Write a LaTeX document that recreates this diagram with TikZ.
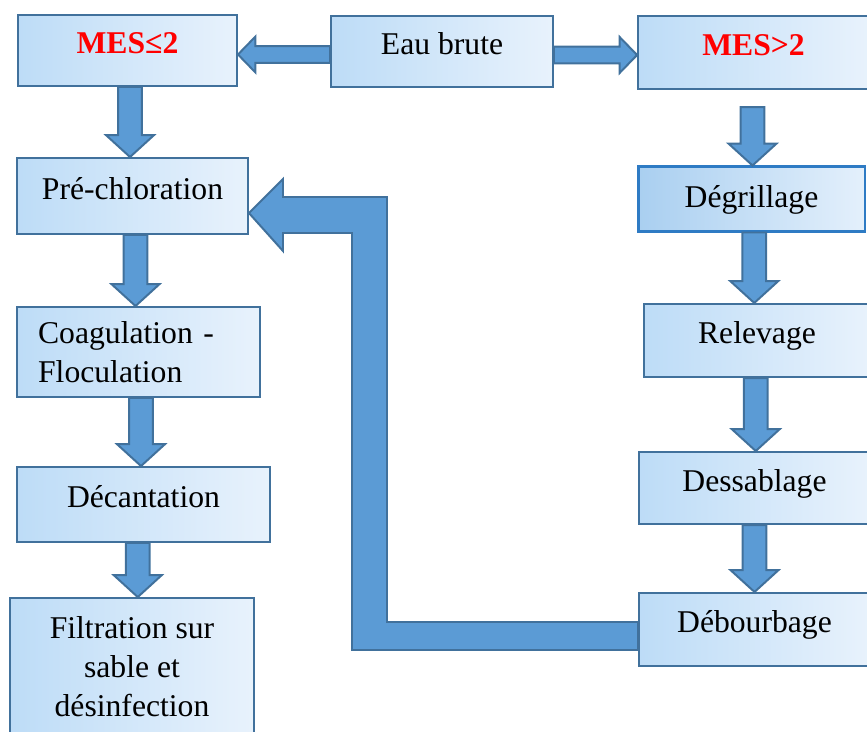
\documentclass[tikz,border=0pt]{standalone}
\usepackage{fontspec}
\setmainfont{Liberation Serif}
\usetikzlibrary{calc}
\definecolor{bordure}{HTML}{41719C}
\definecolor{bleufleche}{HTML}{5B9BD5}
\definecolor{clair}{HTML}{BDDCF7}
\definecolor{tresclair}{HTML}{E8F2FC}
\definecolor{bordvif}{HTML}{2E7BC4}

\tikzset{
  etape/.style={draw=bordure, line width=0.75pt, left color=clair, right color=tresclair,
    font=\fontsize{12}{14.8}\selectfont, inner sep=0pt},
  une/.style={etape, text height=8pt, text depth=5.4pt},
  titre/.style={une, font=\fontsize{12}{14.8}\selectfont\bfseries, text=red},
  fleche/.style={draw=bordure, line width=0.75pt, fill=bleufleche, line join=miter},
}

% fleche verticale (vers le bas) entre deux ancres
\newcommand{\flechebas}[2]{%
  \draw[fleche] let \p1=#1, \p2=#2, \p3=($#1!.5!#2$) in
    (\x3-4.5pt,\y1) -- (\x3-4.5pt,\y2+8.3pt) -- (\x3-9.1pt,\y2+8.3pt) -- (\x3,\y2)
    -- (\x3+9.1pt,\y2+8.3pt) -- (\x3+4.5pt,\y2+8.3pt) -- (\x3+4.5pt,\y1) -- cycle;}
% fleche horizontale entre deux ancres
\newcommand{\flechehor}[2]{%
  \draw[fleche] let \p1=#1, \p2=#2, \p3=($#1!.5!#2$), \n1={ifthenelse(\x2>\x1,1,-1)} in
    (\x1,\y3+3.2pt) -- (\x2-\n1*6.6pt,\y3+3.2pt) -- (\x2-\n1*6.6pt,\y3+6.8pt) -- (\x2,\y3)
    -- (\x2-\n1*6.6pt,\y3-6.8pt) -- (\x2-\n1*6.6pt,\y3-3.2pt) -- (\x1,\y3-3.2pt) -- cycle;}

\begin{document}
\begin{tikzpicture}[x=0.379pt,y=-0.379pt]
  \useasboundingbox (0,0) rectangle (867,731);

  % ligne du haut
  \node[titre, minimum width=83pt, minimum height=26.9pt] (mesinf) at (127.5,50.5) {MES≤2};
  \node[une, minimum width=84.1pt, minimum height=26.9pt] (eau) at (442,51.5) {Eau brute};
  \node[titre, minimum width=87.5pt, minimum height=27.7pt] (messup) at (753.5,52.5) {MES>2};

  % filiere de gauche
  \node[une, minimum width=87.5pt, minimum height=28.8pt] (prechl) at (132.5,196) {Pré-chloration};
  \node[etape, minimum width=92.1pt, minimum height=34.1pt, text width=76.1pt, align=left,
    inner xsep=8pt] (coag) at (138.5,352) {Coagulation -\\Floculation};
  \node[une, minimum width=95.9pt, minimum height=28.4pt] (decant) at (143.5,504.5) {Décantation};
  \node[etape, minimum width=92.5pt, minimum height=51.9pt, align=center] (filtr) at (132,666.5)
    {Filtration sur\\sable et\\désinfection};

  % filiere de droite
  \node[une, minimum width=86pt, minimum height=24.3pt, text depth=1.6pt, left color=clair!80!bleufleche,
    right color=tresclair!90!clair, draw=bordvif, line width=1.1pt] (degr) at (751.5,199) {Dégrillage};
  \node[une, minimum width=85.7pt, minimum height=27.7pt] (relev) at (757,340.5) {Relevage};
  \node[une, minimum width=87.5pt, minimum height=27.3pt] (dessab) at (754.5,488) {Dessablage};
  \node[une, minimum width=87.5pt, minimum height=27.7pt] (debourb) at (754.5,629.5) {Débourbage};

  % fleches
  \flechehor{($(eau.west)+(0,3.5)$)}{($(mesinf.east)+(0,3.5)$)}
  \flechehor{($(eau.east)+(0,3)$)}{($(messup.west)+(0,3)$)}
  \flechebas{(mesinf.south)}{(prechl.north)}
  \flechebas{(prechl.south)}{(coag.north)}
  \flechebas{(coag.south)}{(decant.north)}
  \flechebas{(decant.south)}{(filtr.north)}
  \flechebas{($(messup.south)+(0,17)$)}{(degr.north)}
  \flechebas{(degr.south)}{(relev.north)}
  \flechebas{(relev.south)}{(dessab.north)}
  \flechebas{(dessab.south)}{(debourb.north)}

  % retour vers la pre-chloration
  \draw[fleche] ($(debourb.west)+(0,-7.5)$) -- (387,622) -- (387,197) -- (283,197) -- (283,179)
    -- ($(prechl.east)+(0,17)$) -- (283,251) -- (283,233) -- (352,233) -- (352,650)
    -- ($(debourb.west)+(0,20.5)$) -- cycle;
\end{tikzpicture}
\end{document}
